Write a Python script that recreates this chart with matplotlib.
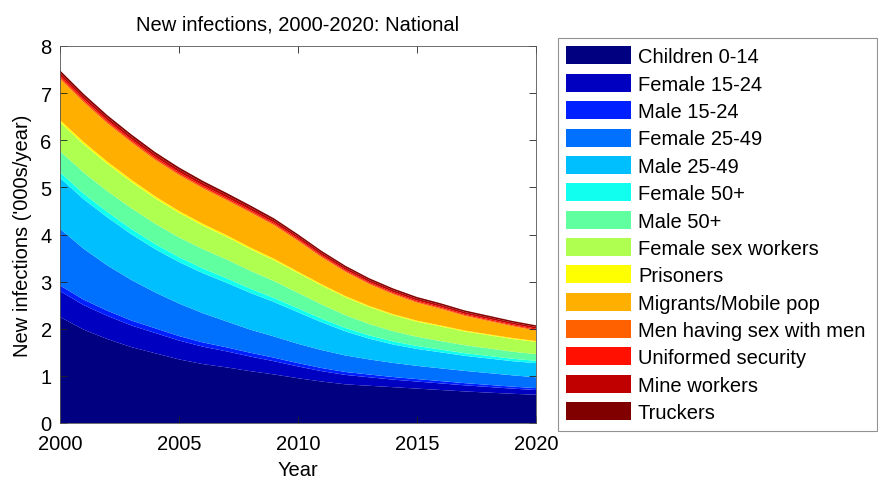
import numpy as np
import matplotlib
matplotlib.use("Agg")
from matplotlib import pyplot as plt

plt.rcParams['font.family'] = ['Liberation Sans', 'DejaVu Sans']

years = np.arange(2000, 2021)

groups = ['Children 0-14', 'Female 15-24', 'Male 15-24', 'Female 25-49', 'Male 25-49',
          'Female 50+', 'Male 50+', 'Female sex workers', 'Prisoners', 'Migrants/Mobile pop',
          'Men having sex with men', 'Uniformed security', 'Mine workers', 'Truckers']

colors = ['#000080', '#0000C0', '#0020FF', '#0070FF', '#00BFFF', '#10FFEF', '#60FFA0',
          '#AFFF50', '#FFFF00', '#FFAF00', '#FF6000', '#FF1000', '#C00000', '#800000']

# new infections per year, thousands
children = [2.25, 1.98, 1.78, 1.61, 1.48, 1.35, 1.25, 1.18, 1.10, 1.03, 0.95,
            0.88, 0.82, 0.79, 0.76, 0.73, 0.70, 0.67, 0.645, 0.62, 0.60]
female_15_24 = [0.55, 0.52, 0.49, 0.46, 0.43, 0.40, 0.37, 0.34, 0.31, 0.28, 0.25,
                0.22, 0.20, 0.18, 0.16, 0.15, 0.14, 0.13, 0.12, 0.11, 0.10]
male_15_24 = [0.120, 0.115, 0.110, 0.105, 0.100, 0.095, 0.090, 0.085, 0.080, 0.075, 0.070,
              0.066, 0.062, 0.058, 0.055, 0.052, 0.049, 0.046, 0.044, 0.042, 0.040]
female_25_49 = [1.20, 1.08, 0.96, 0.86, 0.76, 0.69, 0.62, 0.55, 0.49, 0.45, 0.41,
                0.38, 0.35, 0.32, 0.30, 0.28, 0.27, 0.26, 0.25, 0.24, 0.23]
male_25_49 = [1.08, 1.05, 1.02, 0.97, 0.92, 0.88, 0.85, 0.82, 0.78, 0.73, 0.67,
              0.59, 0.51, 0.44, 0.39, 0.36, 0.34, 0.32, 0.31, 0.30, 0.30]
female_50 = [0.120, 0.118, 0.115, 0.112, 0.108, 0.104, 0.100, 0.095, 0.090, 0.086, 0.082,
             0.078, 0.074, 0.070, 0.066, 0.062, 0.059, 0.056, 0.054, 0.052, 0.050]
male_50 = [0.45, 0.45, 0.44, 0.44, 0.43, 0.42, 0.41, 0.40, 0.38, 0.36, 0.33,
           0.30, 0.27, 0.24, 0.215, 0.195, 0.18, 0.17, 0.16, 0.15, 0.14]
fsw = [0.61, 0.60, 0.58, 0.56, 0.54, 0.52, 0.50, 0.48, 0.46, 0.44, 0.42,
       0.40, 0.38, 0.36, 0.34, 0.32, 0.31, 0.29, 0.28, 0.27, 0.26]
prisoners = [0.050, 0.048, 0.046, 0.044, 0.042, 0.040, 0.038, 0.036, 0.034, 0.032, 0.030,
             0.028, 0.026, 0.025, 0.024, 0.023, 0.022, 0.021, 0.020, 0.020, 0.020]
migrants = [0.87, 0.84, 0.81, 0.79, 0.77, 0.76, 0.75, 0.74, 0.74, 0.71, 0.65,
            0.57, 0.51, 0.46, 0.42, 0.38, 0.35, 0.31, 0.28, 0.25, 0.22]
msm = [0.035, 0.034, 0.033, 0.032, 0.031, 0.030, 0.029, 0.028, 0.027, 0.026, 0.025,
       0.024, 0.023, 0.022, 0.022, 0.021, 0.021, 0.020, 0.020, 0.020, 0.020]
uniformed = [0.040, 0.039, 0.038, 0.037, 0.036, 0.035, 0.034, 0.033, 0.032, 0.031, 0.030,
             0.029, 0.028, 0.027, 0.026, 0.026, 0.025, 0.025, 0.025, 0.024, 0.024]
mine = [0.060, 0.059, 0.058, 0.057, 0.056, 0.055, 0.054, 0.053, 0.052, 0.050, 0.048,
        0.046, 0.044, 0.042, 0.041, 0.040, 0.039, 0.038, 0.037, 0.036, 0.036]
truckers = [0.050, 0.049, 0.048, 0.047, 0.046, 0.045, 0.044, 0.043, 0.042, 0.041, 0.040,
            0.039, 0.038, 0.037, 0.036, 0.035, 0.035, 0.034, 0.034, 0.033, 0.033]

series = [children, female_15_24, male_15_24, female_25_49, male_25_49, female_50, male_50,
          fsw, prisoners, migrants, msm, uniformed, mine, truckers]

fig = plt.figure(figsize=(8.79, 4.81), dpi=100)
ax = fig.add_axes([60/879, 57/481, 476/879, 377/481])

ax.stackplot(years, *series, colors=colors, labels=groups, linewidth=0)

ax.set_xlim(2000, 2020)
ax.set_ylim(0, 8)
ax.set_xticks([2000, 2005, 2010, 2015, 2020])
ax.set_yticks(range(9))
ax.tick_params(direction='in', length=5, width=0.6, top=True, right=True,
               labelsize=14.5, colors='#222222', labelcolor='black')
ax.tick_params(axis='x', pad=8)
ax.tick_params(axis='y', pad=6)
for s in ax.spines.values():
    s.set_linewidth(0.6)
    s.set_color('#555555')

ax.set_title('New infections, 2000-2020: National', fontsize=14.5, pad=12)
ax.set_xlabel('Year', fontsize=14.5, labelpad=5)
ax.set_ylabel("New infections ('000s/year)", fontsize=14.5, labelpad=6)

h, l = ax.get_legend_handles_labels()
leg = fig.legend(h, l, loc='upper left',
                 bbox_to_anchor=(558/879, 1 - 432/481, 319/879, 393/481),
                 mode='expand', borderaxespad=0, fontsize=14.5,
                 handlelength=3.2, handleheight=1.0, handletextpad=0.35,
                 labelspacing=0.37, borderpad=0.42, fancybox=False)
leg.get_frame().set_edgecolor('#777777')
leg.get_frame().set_linewidth(0.8)

fig.savefig('out.png', dpi=100)
